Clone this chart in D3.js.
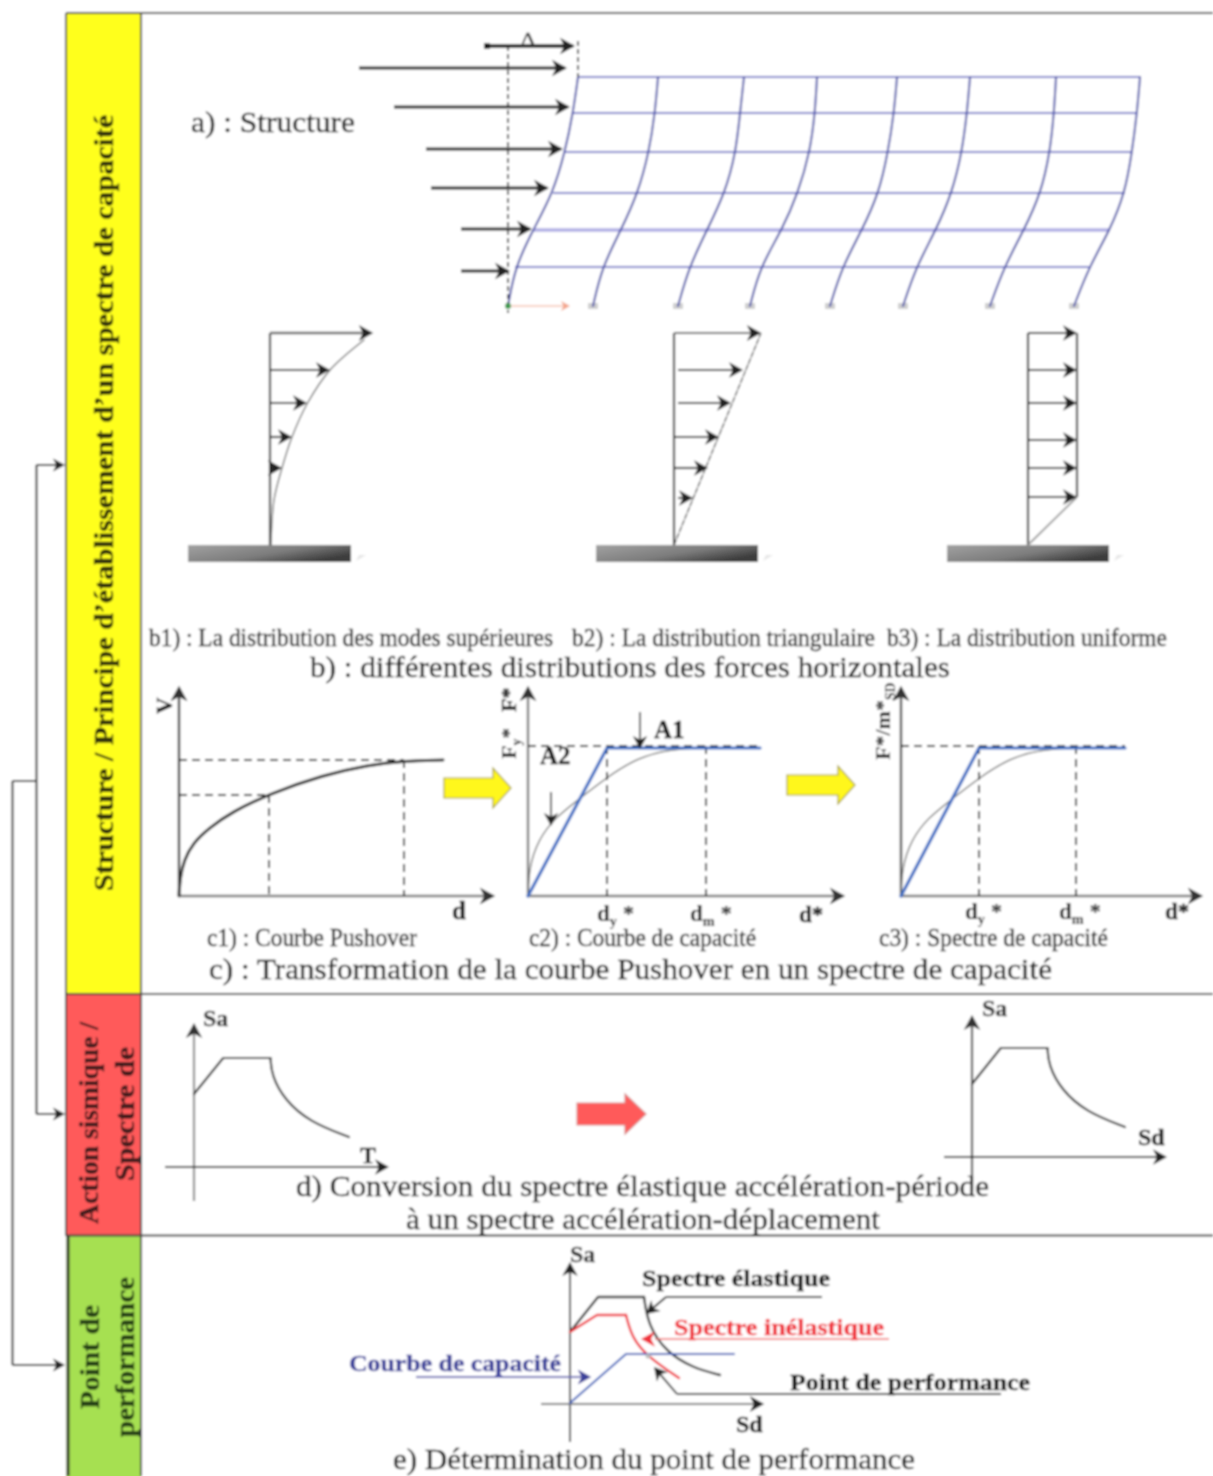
<!DOCTYPE html>
<html>
<head>
<meta charset="utf-8">
<script src="https://cdn.jsdelivr.net/npm/d3@7"></script>
<style>
  html, body { margin: 0; padding: 0; background: #fff; }
  svg { display: block; }
  text { font-family: "Liberation Serif", serif; fill: #111; }
</style>
</head>
<body>
<svg id="chart" width="1213" height="1476"></svg>
<script>
// ============================================================================
// Data
// ============================================================================

// a) frame: floor elevations and each column's sway at those floors
const frameLevels = [0, 39, 76, 113, 154, 193, 229];
const frameColumns = [
  [0, 7, 25, 45, 57, 65, 70],
  [85, 94, 113, 130, 141, 147, 150],
  [170, 181, 199, 217, 228, 232, 236],
  [242, 252, 274, 290, 302, 307, 309],
  [322, 334, 354, 371, 380, 386, 389],
  [395, 408, 428, 444, 454, 459, 462],
  [482, 496, 516, 533, 542, 546, 548],
  [566, 581, 602, 617, 624, 629, 632]
];
const forceLevels = [238, 199, 157, 118, 77, 35];
const forceStarts = [-149, -114, -82, -77, -47, -47];
const forceTips = [59, 62, 55, 41, 24, 2];

// b) force distributions
const b1Heights = [212, 175, 142, 108, 77];
const b1Forces = [103, 60, 37, 22, 12];
const b1ProfileHeights = [0, 45, 77, 108, 141, 175, 205];
const b1ProfileForces = [1, 4, 12, 22, 37, 60, 94];
const b2Heights = [212, 175, 142, 108, 77, 47];
const b2Forces = [87, 69, 57, 45, 34, 19];
const b3Heights = [212, 175, 142, 105, 77, 48];
const b3Forces = [49, 49, 49, 49, 49, 49];

// c) pushover and capacity curves
const pushoverD = [0, 1, 5, 14, 30, 53, 90, 144, 190, 223, 264];
const pushoverV = [0, 18, 36, 53, 68, 84, 102, 121, 131, 135, 136];
const capacityD = [0, 1, 10, 27, 46, 79, 109, 142, 178];
const capacityF = [0, 28, 56, 78, 93, 119, 138, 147, 148];
const bilinearD = [0, 79, 232];
const bilinearF = [0, 148, 148];

// d) spectrum (rise, plateau, then decay)
const spectrumT = [0, 29, 76, 77, 90, 115, 154];
const spectrumSa = [43, 79, 79, 62, 37, 15, 0];

// e) performance point
const elasticSd = [0, 28, 74, 78, 96, 123, 150];
const elasticSa = [72, 107, 107, 79, 52, 36, 29];
const inelasticSd = [0, 27, 56, 62, 78, 109];
const inelasticSa = [72, 89, 89, 66, 47, 26];
const demandSd = [0, 56, 164];
const demandSa = [1, 50, 50];

// labels
const sideLabels = ["Structure / Principe d\u2019établissement d\u2019un spectre de capacité",
  "Action sismique /", "Spectre de", "Point de", "performance"];
const bLabels = ["b1) : La distribution des modes supérieures", "b2) : La distribution triangulaire",
  "b3) : La distribution uniforme"];
const cLabels = ["c1) : Courbe Pushover", "c2) : Courbe de capacité", "c3) : Spectre de capacité"];

// ============================================================================
// Setup
// ============================================================================

const svg = d3.select("#chart");
const defs = svg.append("defs");

defs.append("filter").attr("id", "soft")
  .attr("filterUnits", "userSpaceOnUse")
  .attr("x", 0).attr("y", 0).attr("width", 1213).attr("height", 1476)
  .append("feGaussianBlur").attr("stdDeviation", 0.85);

const blockGradient = defs.append("linearGradient").attr("id", "block")
  .attr("x1", 0).attr("y1", 0).attr("x2", 1).attr("y2", 0.6);
blockGradient.append("stop").attr("offset", 0).attr("stop-color", "#a2a2a2");
blockGradient.append("stop").attr("offset", 0.6).attr("stop-color", "#7c7c7c");
blockGradient.append("stop").attr("offset", 1).attr("stop-color", "#3c3c3c");

const root = svg.append("g").attr("filter", "url(#soft)");
root.append("rect").attr("width", 1213).attr("height", 1476).attr("fill", "#fff");

function seg(x1, y1, x2, y2, color = "#333", width = 1.5, dash = null) {
  return root.append("line")
    .attr("x1", x1).attr("y1", y1).attr("x2", x2).attr("y2", y2)
    .attr("stroke", color).attr("stroke-width", width)
    .attr("stroke-dasharray", dash);
}

function head(x, y, angle, size, color) {
  root.append("path")
    .attr("d", `M${-size},${-size * 0.55}L0,0L${-size},${size * 0.55}L${-size * 0.72},0Z`)
    .attr("transform", `translate(${x},${y}) rotate(${angle})`)
    .attr("fill", color);
}

function arrow(x1, y1, x2, y2, { color = "#222", width = 2, size = 13 } = {}) {
  const angle = Math.atan2(y2 - y1, x2 - x1) * 180 / Math.PI;
  seg(x1, y1, x2 - (x2 - x1) * 2 / Math.hypot(x2 - x1, y2 - y1), y2 - (y2 - y1) * 2 / Math.hypot(x2 - x1, y2 - y1), color, width);
  head(x2, y2, angle, size, color);
}

function label(text, x, y, { size = 24, width = null, bold = false, color = "#111", rotate = 0, anchor = "start" } = {}) {
  const t = root.append("text")
    .attr("transform", `translate(${x},${y}) rotate(${rotate})`)
    .attr("font-size", size)
    .attr("text-anchor", anchor)
    .attr("font-weight", bold ? "bold" : "normal")
    .style("fill", color)
    .style("stroke", color)
    .style("stroke-width", 0.3)
    .text(text);
  if (width) t.attr("textLength", width).attr("lengthAdjust", "spacingAndGlyphs");
  return t;
}

function subLabel(x, y, base, sub, tail, { size = 23, rotate = 0 } = {}) {
  const t = root.append("text")
    .attr("transform", `translate(${x},${y}) rotate(${rotate})`)
    .attr("font-size", size).attr("font-weight", "bold");
  t.append("tspan").text(base);
  t.append("tspan").attr("font-size", size * 0.62).attr("dy", size * 0.22).text(sub);
  t.append("tspan").attr("dy", -size * 0.22).text(tail);
}

function curve(xs, ys, x, y, kind, color, width, dash = null) {
  root.append("path")
    .datum(xs.map((d, i) => [d, ys[i]]))
    .attr("d", d3.line().x(d => x(d[0])).y(d => y(d[1])).curve(kind))
    .attr("fill", "none").attr("stroke", color)
    .attr("stroke-width", width).attr("stroke-dasharray", dash)
    .attr("stroke-linejoin", "round").attr("stroke-linecap", "round");
}

function blockArrow(x0, x1, xTip, yc, halfBody, halfHead, fill, stroke) {
  root.append("path")
    .attr("d", `M${x0},${yc - halfBody}H${x1}V${yc - halfHead}L${xTip},${yc}L${x1},${yc + halfHead}V${yc + halfBody}H${x0}Z`)
    .attr("fill", fill).attr("stroke", stroke).attr("stroke-width", 1.2);
}

// ============================================================================
// Table frame and connectors
// ============================================================================

function drawFrame() {
  const bands = [
    { top: 13, bottom: 994, fill: "#ffff1e" },
    { top: 994, bottom: 1236, fill: "#ff5a5a" },
    { top: 1236, bottom: 1480, fill: "#a6e051" }
  ];
  root.selectAll(".band").data(bands).enter().append("rect")
    .attr("x", 66).attr("y", d => d.top)
    .attr("width", 75).attr("height", d => d.bottom - d.top)
    .attr("fill", d => d.fill);

  seg(66, 13, 1213, 13, "#444", 2);
  seg(66, 994, 1213, 994, "#444", 2);
  seg(66, 1235.5, 1213, 1235.5, "#444", 2);
  seg(66, 13, 66, 1236, "#444", 2);
  seg(68, 1236, 68, 1476, "#333", 3);
  seg(141, 13, 141, 1476, "#444", 2);

  // Connectors on the left
  seg(36.5, 465, 36.5, 1114, "#333", 2);
  seg(12.5, 781, 12.5, 1365, "#333", 2);
  seg(12.5, 781, 36.5, 781, "#333", 2);
  arrow(36.5, 465, 65, 465, { width: 2, size: 12 });
  arrow(36.5, 1114, 65, 1114, { width: 2, size: 12 });
  arrow(12.5, 1365, 65, 1365, { width: 2, size: 12 });

  const side = { size: 27, bold: true, rotate: -90, color: "#303010" };
  label(sideLabels[0], 113, 891, { ...side, width: 776 });
  label(sideLabels[1], 98, 1224, { ...side, width: 202, color: "#401c1c" });
  label(sideLabels[2], 134, 1181, { ...side, width: 134, color: "#401c1c" });
  label(sideLabels[3], 99, 1409, { ...side, width: 104, color: "#254018" });
  label(sideLabels[4], 134, 1437, { ...side, width: 160, color: "#254018" });
}

// ============================================================================
// a) Structure
// ============================================================================

function drawStructure() {
  const x = d3.scaleLinear().domain([0, 632]).range([508, 1140]);
  const y = d3.scaleLinear().domain([0, 229]).range([306, 77]);

  // Grey supports first so the columns sit on them
  root.selectAll(".support").data(frameColumns.slice(1)).enter().append("rect")
    .attr("x", d => x(d[0]) - 5).attr("y", y(0) - 3)
    .attr("width", 10).attr("height", 6)
    .attr("fill", "#cfcfcf");

  frameLevels.slice(1).forEach((level, i) => {
    const wide = i === 1;
    seg(x(frameColumns[0][i + 1]), y(level), x(frameColumns[7][i + 1]), y(level),
      wide ? "#b0afe4" : "#7c80cc", wide ? 3.6 : 2);
  });
  frameColumns.forEach(col => {
    curve(col, frameLevels, x, y, d3.curveBasis, "#4a50a8", 2);
  });

  forceLevels.forEach((level, i) => {
    arrow(x(forceStarts[i]), y(level), x(forceTips[i]), y(level), { width: 3, size: 15 });
  });

  // Top displacement
  seg(x(0), 46, x(0), 313, "#111", 1.5, "5,3");
  seg(x(70), 41, x(70), y(229), "#111", 1.5, "5,3");
  root.append("rect").attr("x", 484).attr("y", 43).attr("width", 6).attr("height", 6).attr("fill", "#111");
  arrow(486, 46, 575, 46, { width: 4, size: 15 });
  label("\u0394", 520, 47, { size: 22, color: "#333", width: 16 });

  // Local axes at the base
  arrow(x(3), y(0), x(62), y(0), { color: "#f3a58c", width: 1.2, size: 9 });
  root.append("circle").attr("cx", x(0)).attr("cy", y(0)).attr("r", 3).attr("fill", "#3c9a50");

  label("a) : Structure", 191, 132, { size: 30, width: 164 });
}

// ============================================================================
// b) Force distributions
// ============================================================================

function distributionBase(x0, blockX0, blockX1) {
  root.append("rect")
    .attr("x", blockX0).attr("y", 545).attr("width", blockX1 - blockX0).attr("height", 17)
    .attr("fill", "url(#block)");
  root.append("path")
    .attr("d", `M${blockX1 + 5},561L${blockX1 + 15},555L${blockX1 + 8},555Z`)
    .attr("fill", "#e6e6e6");
  seg(x0, 545, x0, 333, "#333", 2.2);
}

function drawDistributions() {
  const y = d3.scaleLinear().domain([0, 212]).range([545, 333]);

  // b1
  const x1 = d3.scaleLinear().domain([0, 103]).range([270, 373]);
  distributionBase(x1(0), 188, 351);
  curve(b1ProfileForces, b1ProfileHeights, x1, y, d3.curveCatmullRom, "#666", 1.3);
  b1Heights.forEach((h, i) => {
    arrow(x1(0), y(h), x1(b1Forces[i]), y(h), { width: i === 0 ? 2.4 : 2.1, size: 14, color: i === 0 ? "#666" : "#222" });
  });
  head(x1(b1Forces[0]), y(b1Heights[0]), 0, 14, "#222");

  // b2
  const x2 = d3.scaleLinear().domain([0, 87]).range([674, 761]);
  distributionBase(x2(0), 596, 758);
  seg(x2(0), y(0), x2(87), y(212), "#444", 1.3, "6,1");
  b2Heights.forEach((h, i) => {
    arrow(x2(0) + (i === 0 || i === 3 || i === 4 ? 0 : 4), y(h), x2(b2Forces[i]), y(h), { width: 2.1, size: 14, color: i === 0 ? "#666" : "#222" });
  });
  head(x2(87), y(212), 0, 14, "#222");

  // b3
  const x3 = d3.scaleLinear().domain([0, 49]).range([1028, 1077]);
  distributionBase(x3(0), 947, 1109);
  seg(x3(49), y(212), x3(49), y(48), "#333", 2.2);
  seg(x3(49), y(48), x3(0), y(0), "#999", 1.8);
  b3Heights.forEach((h, i) => {
    arrow(x3(0), y(h), x3(b3Forces[i]), y(h), { width: 2.1, size: 14 });
  });

  label(bLabels[0], 149, 646, { size: 25, width: 404 });
  label(bLabels[1], 572, 646, { size: 25, width: 303 });
  label(bLabels[2], 887, 646, { size: 25, width: 280 });
  label("b) : différentes distributions des forces horizontales", 310, 677, { size: 30, width: 640 });
}

// ============================================================================
// c) Pushover to capacity spectrum
// ============================================================================

function axesPair(x0, xEnd, color = "#555") {
  arrow(x0, 896, xEnd, 896, { color: "#7a7a7a", width: 2.6, size: 15 });
  head(xEnd, 896, 0, 15, "#333");
  arrow(x0, 896, x0, 686, { color, width: 2.4, size: 15 });
  head(x0, 686, -90, 15, "#333");
}

function drawCapacity() {
  const y = d3.scaleLinear().domain([0, 150]).range([896, 746]);
  const dash = "8,5";

  // c1
  const x1 = d3.scaleLinear().domain([0, 264]).range([179, 443]);
  axesPair(x1(0), 495, "#2a2a2a");
  seg(x1(0), y(136), x1(225), y(136), "#111", 1.8, dash);
  seg(x1(0), y(101), x1(90), y(101), "#111", 1.8, dash);
  seg(x1(90), y(101), x1(90), 896, "#111", 1.8, dash);
  seg(x1(225), y(136), x1(225), 896, "#111", 1.8, dash);
  curve(pushoverD, pushoverV, x1, y, d3.curveBasis, "#333", 3);
  label("V", 172, 714, { size: 23, bold: true, rotate: -90 });
  label("d", 452, 919, { size: 25, bold: true });
  label(cLabels[0], 207, 946, { size: 25, width: 210 });

  // c2
  const x2 = d3.scaleLinear().domain([0, 232]).range([528, 760]);
  axesPair(x2(0), 845, "#777");
  curve(capacityD, capacityF, x2, y, d3.curveBasis, "#666", 1.3);
  seg(x2(0), y(150), x2(232), y(150), "#111", 1.8, dash);
  seg(x2(79), y(150), x2(79), 896, "#111", 1.8, dash);
  seg(x2(178), y(150), x2(178), 896, "#111", 1.8, dash);
  curve(bilinearD, bilinearF, x2, y, d3.curveLinear, "#3f6fc4", 3.2);
  arrow(640, 712, 640, 749, { width: 1.6, size: 13, color: "#222" });
  arrow(551, 792, 551, 826, { width: 1.6, size: 13, color: "#222" });
  label("A1", 654, 738, { size: 25, bold: true });
  label("A2", 540, 764, { size: 25, bold: true });
  subLabel(516, 759, "F", "y", "*", { size: 22, rotate: -90 });
  label("F*", 516, 712, { size: 22, bold: true, rotate: -90 });
  subLabel(597, 921, "d", "y", " *");
  subLabel(690, 921, "d", "m", " *");
  label("d*", 799, 922, { size: 23, bold: true });
  label(cLabels[1], 529, 946, { size: 25, width: 227 });

  // c3
  const x3 = d3.scaleLinear().domain([0, 224]).range([901, 1125]);
  axesPair(x3(0), 1203, "#444");
  curve(capacityD, capacityF, x3, y, d3.curveBasis, "#666", 1.3);
  seg(x3(0), y(150), x3(224), y(150), "#111", 1.8, dash);
  seg(x3(78), y(150), x3(78), 896, "#111", 1.8, dash);
  seg(x3(175), y(150), x3(175), 896, "#111", 1.8, dash);
  curve([0, 78, 224], bilinearF, x3, y, d3.curveLinear, "#3f6fc4", 3.2);
  subLabel(890, 760, "F*/m*", "SD", "", { size: 22, rotate: -90 });
  subLabel(965, 919, "d", "y", " *");
  subLabel(1059, 919, "d", "m", " *");
  label("d*", 1165, 919, { size: 23, bold: true });
  label(cLabels[2], 879, 946, { size: 25, width: 229 });

  blockArrow(444, 493, 511, 788, 10, 20, "#fff71e", "#a8a02a");
  blockArrow(787, 838, 855, 785, 10, 19, "#fff71e", "#a8a02a");

  label("c) : Transformation de la courbe Pushover en un spectre de capacité", 209, 979, { size: 30, width: 843 });
}

// ============================================================================
// d) Spectrum conversion
// ============================================================================

function spectrumPanel(xRange, yRange) {
  const x = d3.scaleLinear().domain([0, 154]).range(xRange);
  const y = d3.scaleLinear().domain([0, 79]).range(yRange);
  curve(spectrumT.slice(0, 3), spectrumSa.slice(0, 3), x, y, d3.curveLinear, "#333", 2.2);
  curve(spectrumT.slice(2), spectrumSa.slice(2), x, y, d3.curveBasis, "#333", 2.2);
}

function drawSpectra() {
  // Period form
  seg(194, 1201, 194, 1030, "#888", 2.2);
  head(194, 1023, -90, 15, "#333");
  arrow(165, 1167, 389, 1167, { width: 2, size: 14 });
  spectrumPanel([194, 349], [1137, 1058]);
  label("Sa", 203, 1026, { size: 24, bold: true, color: "#333" });
  label("T", 360, 1163, { size: 24, bold: true });

  // Displacement form
  seg(972, 1190, 972, 1022, "#444", 2.2);
  head(972, 1015, -90, 15, "#333");
  arrow(944, 1157, 1167, 1157, { width: 2, size: 14 });
  spectrumPanel([972, 1125], [1127, 1048]);
  label("Sa", 982, 1016, { size: 24, bold: true, color: "#333" });
  label("Sd", 1138, 1145, { size: 24, bold: true });

  blockArrow(577, 625, 646, 1114, 11, 20, "#ff5a5a", "#d98a8a");

  label("d) Conversion du spectre élastique accélération-période", 296, 1196, { size: 30, width: 693 });
  label("à un spectre accélération-déplacement", 406, 1229, { size: 30, width: 474 });
}

// ============================================================================
// e) Performance point
// ============================================================================

function drawPerformance() {
  const x = d3.scaleLinear().domain([0, 164]).range([570, 734]);
  const y = d3.scaleLinear().domain([0, 141]).range([1404, 1263]);

  seg(x(0), 1442, x(0), 1270, "#333", 2);
  head(x(0), 1262, -90, 14, "#222");
  arrow(541, y(0), 764, y(0), { color: "#777", width: 2.2, size: 14 });
  head(764, y(0), 0, 14, "#222");

  curve(elasticSd.slice(0, 3), elasticSa.slice(0, 3), x, y, d3.curveLinear, "#333", 2.4);
  curve(elasticSd.slice(2), elasticSa.slice(2), x, y, d3.curveBasis, "#333", 2.4);
  curve(inelasticSd.slice(0, 3), inelasticSa.slice(0, 3), x, y, d3.curveLinear, "#f0303a", 2.4);
  curve(inelasticSd.slice(2), inelasticSa.slice(2), x, y, d3.curveBasis, "#f0303a", 2.4);
  curve(demandSd, demandSa, x, y, d3.curveLinear, "#3a60bc", 2);
  root.append("circle").attr("cx", x(78)).attr("cy", y(48)).attr("r", 2.5).attr("fill", "#bbb");

  // Leaders
  seg(822, 1297, 666, 1297, "#222", 1.9);
  arrow(666, 1297, 646, 1314, { width: 1.9, size: 13 });
  seg(889, 1339, 655, 1339, "#f06a6a", 1.7);
  head(641, 1339, 180, 14, "#f0303a");
  arrow(416, 1377, 591, 1377, { color: "#6a6cb8", width: 2.2, size: 13 });
  head(591, 1377, 0, 13, "#3a3f9a");
  seg(1001, 1394, 677, 1394, "#222", 1.9);
  arrow(677, 1394, 654, 1367, { width: 1.9, size: 13 });

  label("Sa", 570, 1262, { size: 24, bold: true, color: "#333" });
  label("Sd", 736, 1432, { size: 24, bold: true });
  label("Spectre élastique", 642, 1286, { size: 24, bold: true, width: 188 });
  label("Spectre inélastique", 674, 1335, { size: 24, bold: true, width: 210, color: "#f0303a" });
  label("Courbe de capacité", 349, 1371, { size: 24, bold: true, width: 212, color: "#3a3f9a" });
  label("Point de performance", 790, 1390, { size: 24, bold: true, width: 240 });
  label("e) Détermination du point de performance", 393, 1469, { size: 30, width: 522 });
}

drawFrame();
drawStructure();
drawDistributions();
drawCapacity();
drawSpectra();
drawPerformance();
</script>
</body>
</html>
